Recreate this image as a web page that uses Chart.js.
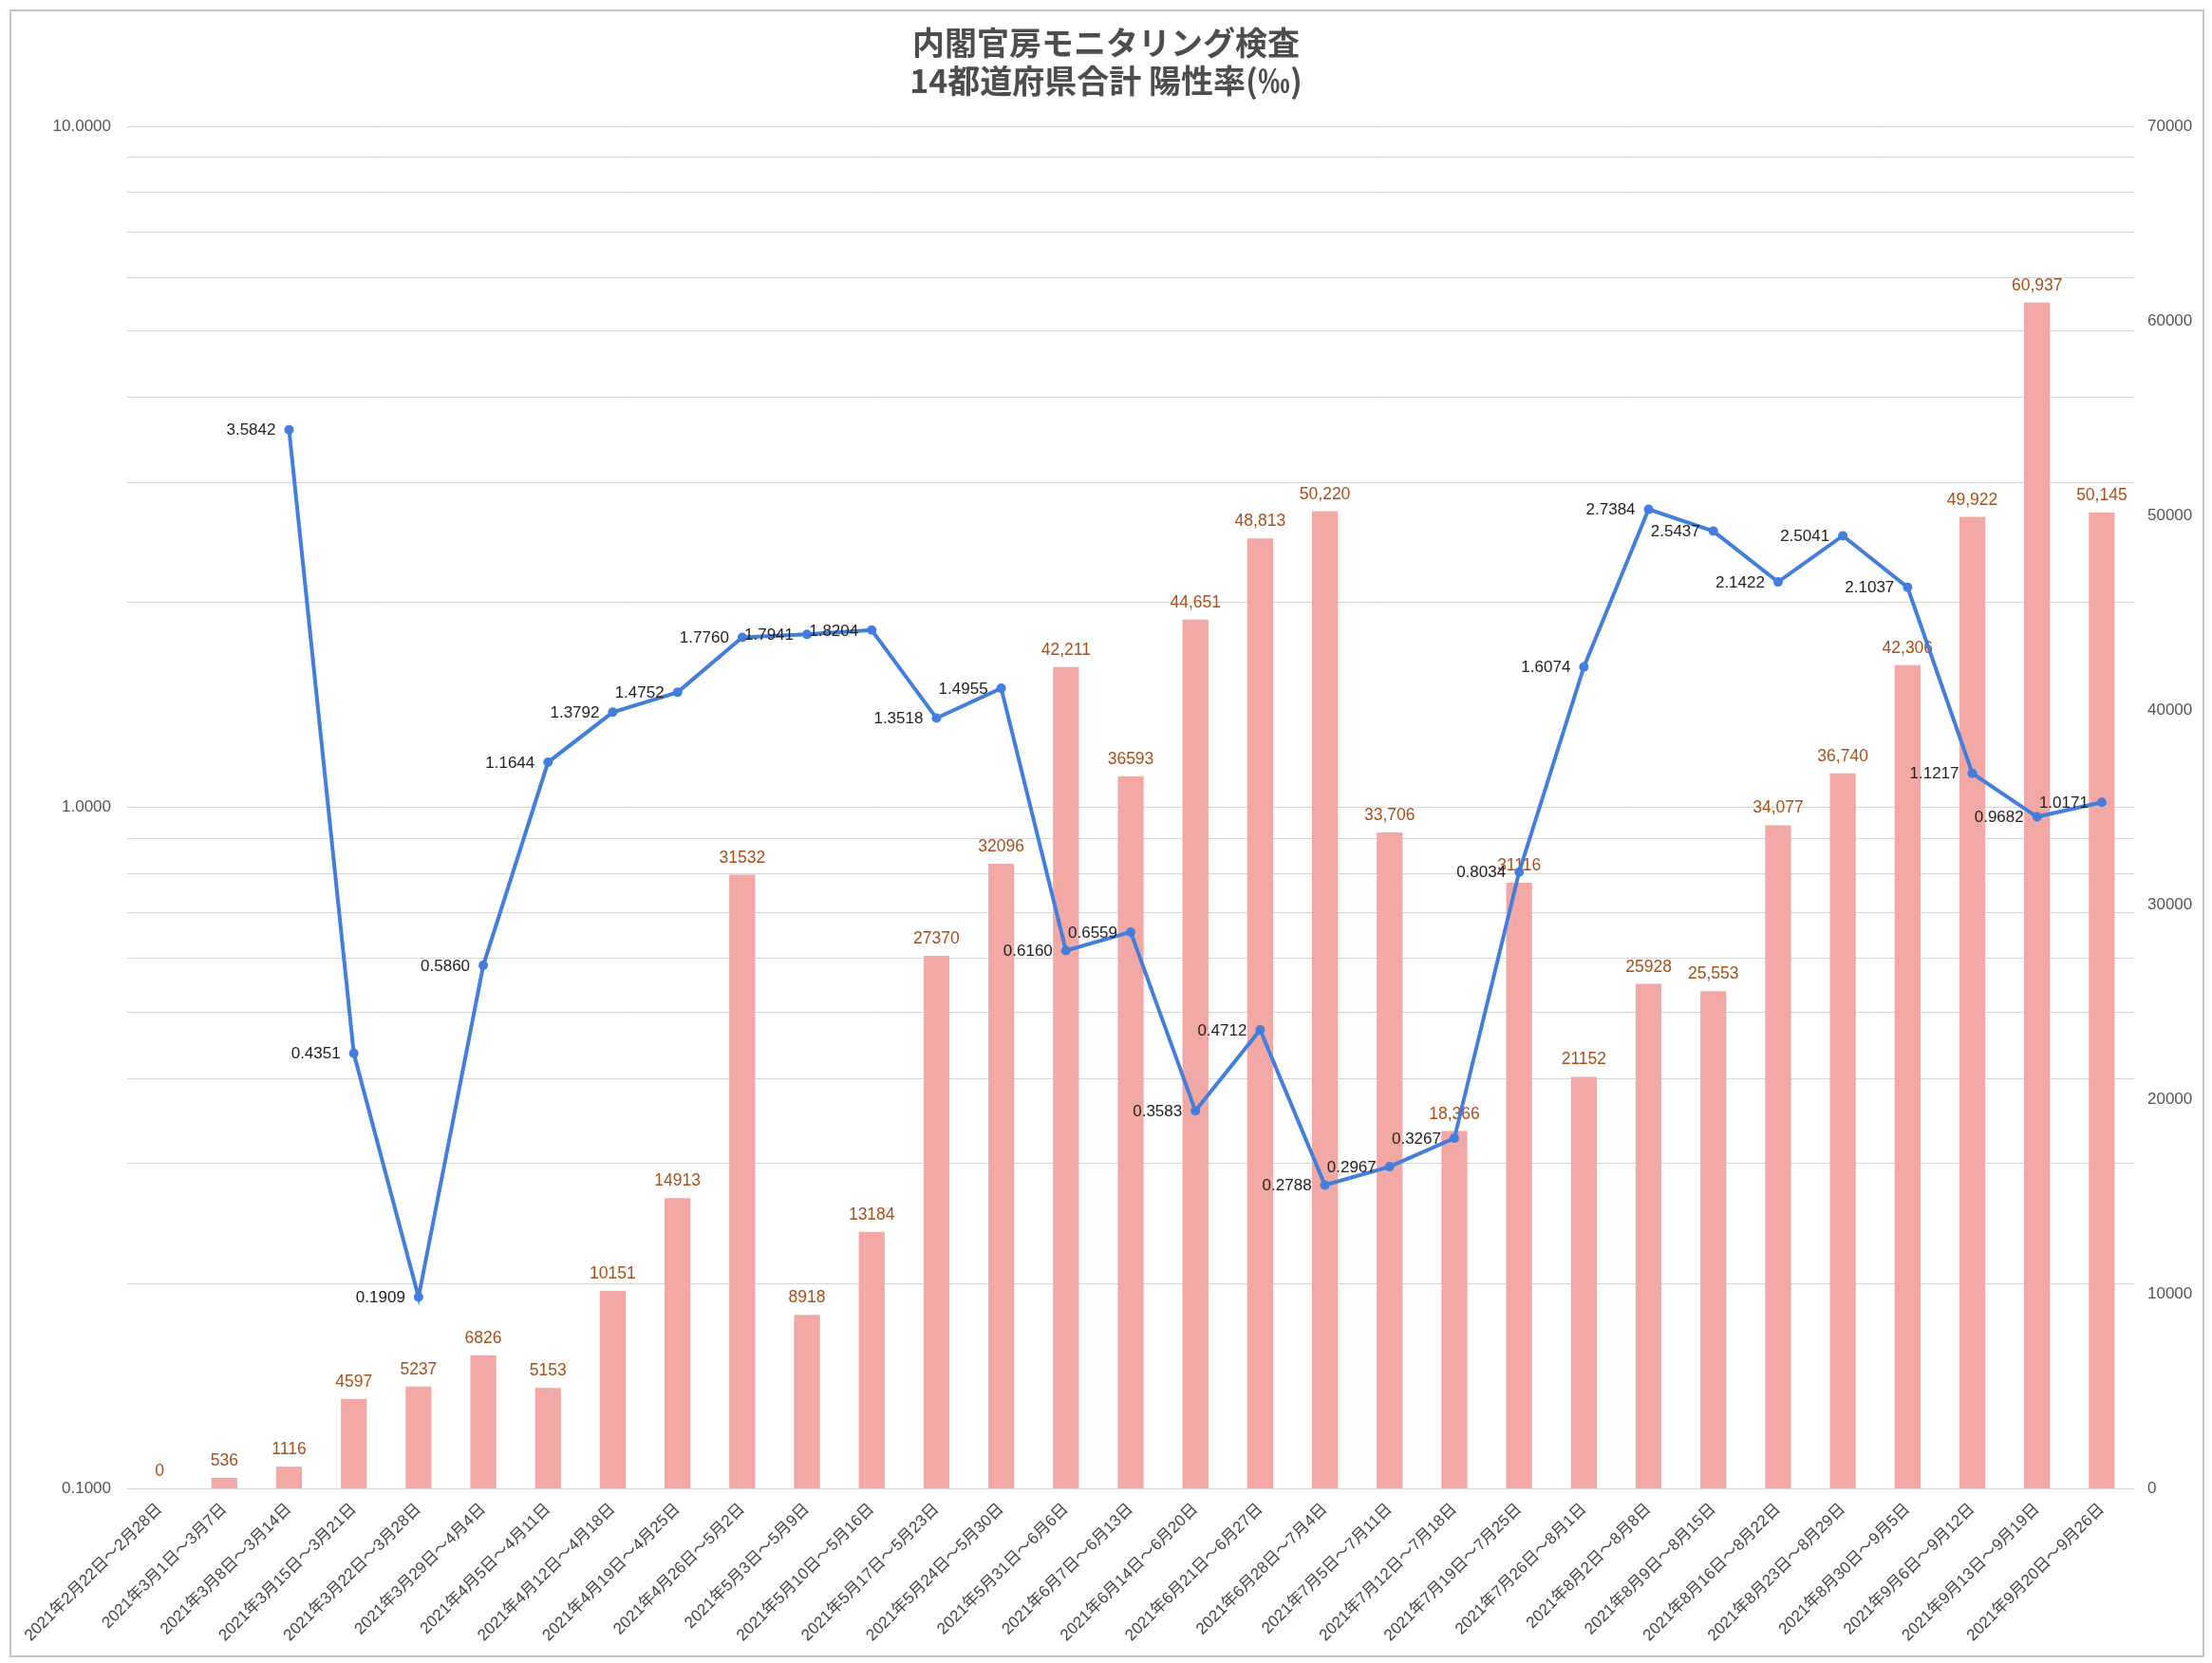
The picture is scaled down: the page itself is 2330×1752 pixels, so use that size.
<!DOCTYPE html>
<html>
<head>
<meta charset="utf-8">
<script src="https://cdn.jsdelivr.net/npm/chart.js@4.4.0/dist/chart.umd.min.js"></script>
<style>
  html, body { margin: 0; padding: 0; background: #fff; }
  #wrap { position: relative; width: 2330px; height: 1752px; }
  #c { display: block; }
  #frame { position: absolute; left: 10px; top: 10px; width: 2312px; height: 1736px; border: 2px solid #c4c4c4; box-sizing: border-box; pointer-events: none; }
</style>
</head>
<body>
<div id="wrap"><canvas id="c" width="2330" height="1752"></canvas><div id="frame"></div></div>
<script>
// weekly periods
const weeks = [
  '2021年2月22日～2月28日', '2021年3月1日～3月7日', '2021年3月8日～3月14日', '2021年3月15日～3月21日',
  '2021年3月22日～3月28日', '2021年3月29日～4月4日', '2021年4月5日～4月11日', '2021年4月12日～4月18日',
  '2021年4月19日～4月25日', '2021年4月26日～5月2日', '2021年5月3日～5月9日', '2021年5月10日～5月16日',
  '2021年5月17日～5月23日', '2021年5月24日～5月30日', '2021年5月31日～6月6日', '2021年6月7日～6月13日',
  '2021年6月14日～6月20日', '2021年6月21日～6月27日', '2021年6月28日～7月4日', '2021年7月5日～7月11日',
  '2021年7月12日～7月18日', '2021年7月19日～7月25日', '2021年7月26日～8月1日', '2021年8月2日～8月8日',
  '2021年8月9日～8月15日', '2021年8月16日～8月22日', '2021年8月23日～8月29日', '2021年8月30日～9月5日',
  '2021年9月6日～9月12日', '2021年9月13日～9月19日', '2021年9月20日～9月26日'
];

// 検査数 (right axis)
const tests = [0, 536, 1116, 4597, 5237, 6826, 5153, 10151, 14913, 31532, 8918, 13184, 27370, 32096, 42211, 36593,
  44651, 48813, 50220, 33706, 18366, 31116, 21152, 25928, 25553, 34077, 36740, 42306, 49922, 60937, 50145];
// labels as printed on the chart (mixed formats)
const testLabels = ['0', '536', '1116', '4597', '5237', '6826', '5153', '10151', '14913', '31532', '8918', '13184',
  '27370', '32096', '42,211', '36593', '44,651', '48,813', '50,220', '33,706', '18,366', '31116', '21152', '25928',
  '25,553', '34,077', '36,740', '42,306', '49,922', '60,937', '50,145'];

// 陽性率 ‰ (left axis, log)
const positivity = [null, null, 3.5842, 0.4351, 0.1909, 0.5860, 1.1644, 1.3792, 1.4752, 1.7760, 1.7941, 1.8204,
  1.3518, 1.4955, 0.6160, 0.6559, 0.3583, 0.4712, 0.2788, 0.2967, 0.3267, 0.8034, 1.6074, 2.7384, 2.5437,
  2.1422, 2.5041, 2.1037, 1.1217, 0.9682, 1.0171];

const leftMin = 0.1, leftMax = 10;
const rightMax = 70000, rightStep = 10000;

const FONT = "'Liberation Sans', 'Noto Sans CJK JP', sans-serif";
Chart.defaults.font.family = FONT;

const isPow10 = v => Math.abs(Math.log10(v) - Math.round(Math.log10(v))) < 1e-9;
const isWholeMantissa = v => {
  const m = v / Math.pow(10, Math.floor(Math.log10(v) + 1e-9));
  return Math.abs(m - Math.round(m)) < 1e-6;
};

// data labels drawn from the element positions
const valueLabels = {
  id: 'valueLabels',
  afterDatasetDraw(chart, args) {
    const ctx = chart.ctx;
    ctx.save();
    if (args.index === 0) {
      ctx.font = '17.5px ' + FONT;
      ctx.fillStyle = '#a84f1c';
      ctx.textAlign = 'center';
      ctx.textBaseline = 'bottom';
      args.meta.data.forEach((bar, i) => ctx.fillText(testLabels[i], bar.x, bar.y - 9));
    } else {
      ctx.font = '17px ' + FONT;
      ctx.fillStyle = '#222';
      ctx.textAlign = 'right';
      ctx.textBaseline = 'middle';
      args.meta.data.forEach((pt, i) => {
        if (positivity[i] == null) return;
        ctx.fillText(positivity[i].toFixed(4), pt.x - 14, pt.y + 1);
      });
    }
    ctx.restore();
  }
};

new Chart(document.getElementById('c'), {
  data: {
    labels: weeks,
    datasets: [
      { type: 'bar', label: '検査数', data: tests, yAxisID: 'y1', order: 1,
        backgroundColor: '#f2a8a5', barPercentage: 0.4, categoryPercentage: 1.0 },
      { type: 'line', label: '陽性率', data: positivity, yAxisID: 'y', order: 0,
        borderColor: '#437edc', backgroundColor: '#437edc', borderWidth: 4,
        pointRadius: 5, pointBackgroundColor: '#437edc', pointBorderWidth: 0, tension: 0 }
    ]
  },
  options: {
    responsive: false,
    devicePixelRatio: 1,
    animation: false,
    layout: { padding: 0 },
    plugins: {
      legend: { display: false },
      tooltip: { enabled: false },
      title: {
        display: true,
        text: ['内閣官房モニタリング検査', '14都道府県合計 陽性率(‰)'],
        color: '#4d4d4d',
        font: { size: 34, weight: 'bold', family: "'Noto Sans CJK JP', sans-serif", lineHeight: 40 / 34 },
        padding: { top: 25, bottom: 28 }
      }
    },
    scales: {
      x: {
        grid: { display: false },
        border: { display: false },
        ticks: { minRotation: 45, maxRotation: 45, autoSkip: false, color: '#444', font: { size: 17 }, padding: 4 },
        afterFit(s) { s.height = 184; }
      },
      y: {
        type: 'logarithmic',
        position: 'left',
        min: leftMin,
        max: leftMax,
        grid: { color: '#d6d6d6', drawTicks: false },
        border: { display: false },
        ticks: {
          autoSkip: false, padding: 17, color: '#555', font: { size: 17 },
          callback: v => isPow10(v) ? Number(v).toFixed(4) : ''
        },
        afterBuildTicks(s) { s.ticks = s.ticks.filter(t => isWholeMantissa(t.value)); },
        afterFit(s) { s.width = 134; }
      },
      y1: {
        position: 'right',
        min: 0,
        max: rightMax,
        grid: { display: false, drawTicks: false },
        border: { display: false },
        ticks: { stepSize: rightStep, padding: 14, color: '#555', font: { size: 17 }, callback: v => String(v) },
        afterFit(s) { s.width = 82; }
      }
    }
  },
  plugins: [valueLabels]
});
</script>
</body>
</html>
